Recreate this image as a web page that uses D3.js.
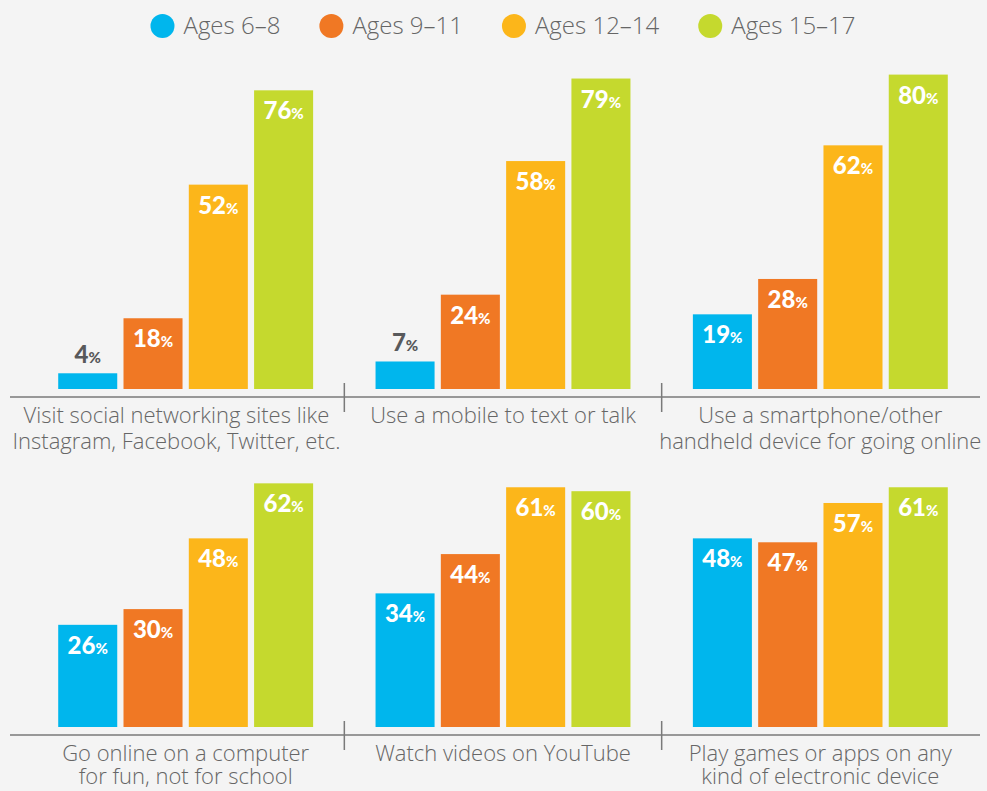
<!DOCTYPE html>
<html><head><meta charset="utf-8">
<script src="https://cdn.jsdelivr.net/npm/d3@7"></script>
<style>
html,body{margin:0;padding:0;background:#f4f4f4;}
svg{display:block;}
text{font-family:"Open Sans",Lato,sans-serif;}
text.val{font-family:Lato,"Open Sans",sans-serif;}
</style></head>
<body>
<svg id="chart" width="987" height="791"></svg>
<script>
const seriesNames = ["Ages 6\u20138", "Ages 9\u201311", "Ages 12\u201314", "Ages 15\u201317"];
const seriesColors = ["#00b6ed", "#f07824", "#fcb61a", "#c5d92e"];
const categories = [
  ["Visit social networking sites like", "Instagram, Facebook, Twitter, etc."],
  ["Use a mobile to text or talk"],
  ["Use a smartphone/other", "handheld device for going online"],
  ["Go online on a computer", "for fun, not for school"],
  ["Watch videos on YouTube"],
  ["Play games or apps on any", "kind of electronic device"]
];
const ages6to8   = [4, 7, 19, 26, 34, 48];
const ages9to11  = [18, 24, 28, 30, 44, 47];
const ages12to14 = [52, 58, 62, 48, 61, 57];
const ages15to17 = [76, 79, 80, 62, 60, 61];
const seriesValues = [ages6to8, ages9to11, ages12to14, ages15to17];

const svg = d3.select("#chart");
const rowBase = [389, 727];
const rowLineGap = [25.5, 23];
const pxPerPct = 3.93;

const xPanel = d3.scaleBand().domain([0,1,2]).range([27, 979]);
const xBar = d3.scaleBand().domain(d3.range(4)).range([0, xPanel.bandwidth()]).paddingInner(0.096).paddingOuter(0.478);

categories.forEach((lines, ci) => {
  const row = Math.floor(ci / 3), col = ci % 3;
  const base = rowBase[row];
  const y = d3.scaleLinear().domain([0, 100]).range([base, base - 100 * pxPerPct]);
  const g = svg.append("g").attr("transform", `translate(${xPanel(col)},0)`);
  seriesValues.forEach((vals, si) => {
    const v = vals[ci];
    const bx = xBar(si), bw = xBar.bandwidth();
    g.append("rect").attr("x", bx).attr("width", bw)
      .attr("y", y(v)).attr("height", y(0) - y(v))
      .attr("fill", seriesColors[si]);
    const small = (y(0) - y(v)) < 40;
    const t = g.append("text").attr("class", "val")
      .attr("x", bx + bw / 2)
      .attr("y", small ? y(v) - 10 : y(v) + 29)
      .attr("text-anchor", "middle")
      .attr("fill", small ? "#58595b" : "#ffffff")
      .style("font-weight", 900);
    t.append("tspan").style("font-size", "24px").text(v);
    t.append("tspan").style("font-size", "15px").text("%");
  });
  // category label
  const cx = xPanel(col) + xPanel.bandwidth() / 2;
  const axisY = base + 8;
  const lbl = svg.append("g");
  const texts = lines.map((ln, li) =>
    lbl.append("text").attr("x", cx).attr("y", axisY + 26 + li * rowLineGap[row])
      .attr("text-anchor", "middle").attr("fill", "#666666")
      .style("font-size", "22px").style("font-weight", 300).text(ln));
  // keep first line clear of the separator tick on the right
  if (col < 2) {
    const w0 = texts[0].node().getComputedTextLength();
    const limit = xPanel(col) + xPanel.bandwidth() - 15;
    const excess = cx + w0 / 2 - limit;
    if (excess > 0) lbl.attr("transform", `translate(${-excess},0)`);
  }
});

// axes lines and separators
rowBase.forEach(base => {
  const axisY = base + 8;
  svg.append("line").attr("x1", 10).attr("x2", 980).attr("y1", axisY).attr("y2", axisY)
    .attr("stroke", "#7a7a7a").attr("stroke-width", 1.5);
  [1, 2].forEach(c => {
    const sx = xPanel(c);
    svg.append("line").attr("x1", sx).attr("x2", sx).attr("y1", axisY - 14).attr("y2", axisY + 15)
      .attr("stroke", "#7a7a7a").attr("stroke-width", 1.5);
  });
});

// legend
const leg = svg.append("g");
let lx = 0;
seriesNames.forEach((name, i) => {
  const it = leg.append("g").attr("transform", `translate(${lx},0)`);
  it.append("circle").attr("cx", 12).attr("cy", 26).attr("r", 12).attr("fill", seriesColors[i]);
  const t = it.append("text").attr("x", 33).attr("y", 34).attr("fill", "#666666")
    .style("font-size", "24px").style("font-weight", 300).text(name);
  lx += 33 + t.node().getComputedTextLength() + 39;
});
const legW = lx - 39;
leg.attr("transform", `translate(${503 - legW / 2},0)`);
</script>
</body></html>
